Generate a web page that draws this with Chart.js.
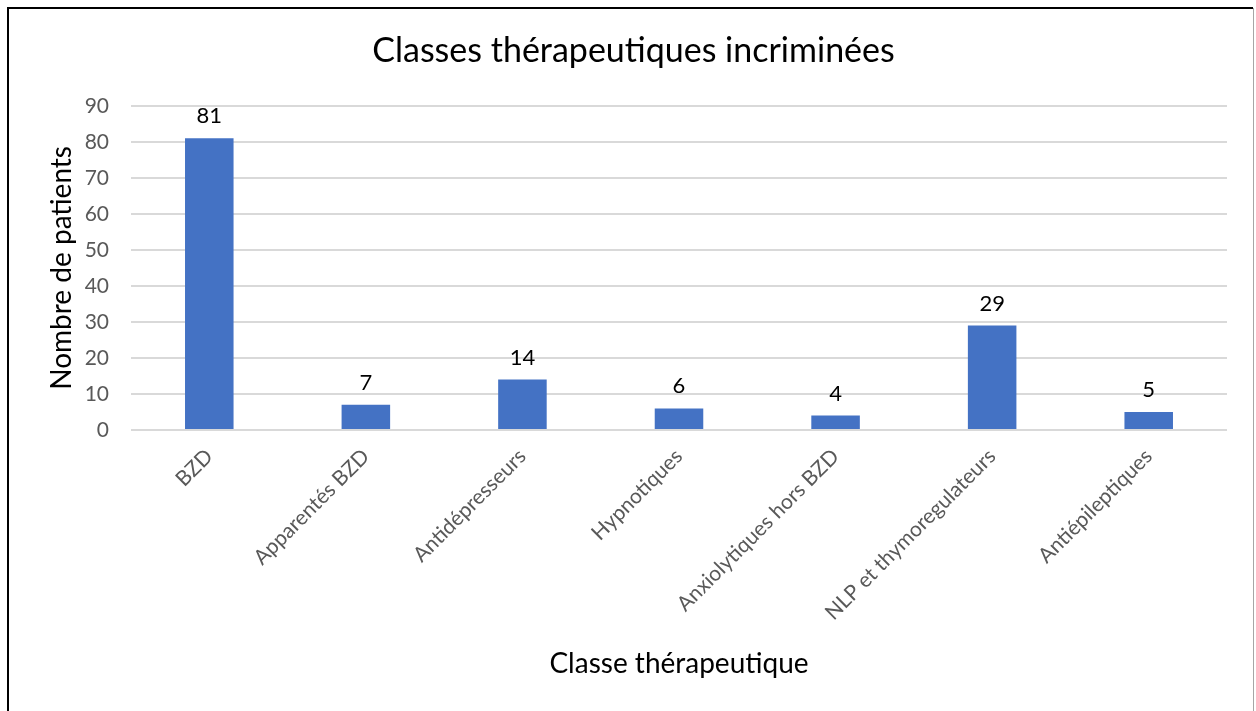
<!DOCTYPE html>
<html>
<head>
<meta charset="utf-8">
<script src="https://cdn.jsdelivr.net/npm/chart.js@4"></script>
<style>
  html, body { margin: 0; padding: 0; background: #fff; }
  #wrap { position: absolute; left: 0; top: 0; width: 1256px; height: 711px; }
</style>
</head>
<body>
<div id="wrap"><canvas id="graphique" width="1256" height="711"></canvas></div>
<script>
// données
const classes = ['BZD', 'Apparentés BZD', 'Antidépresseurs', 'Hypnotiques',
                 'Anxiolytiques hors BZD', 'NLP et thymoregulateurs', 'Antiépileptiques'];
const nbPatients = [81, 7, 14, 6, 4, 29, 5];
const graduations = [0, 10, 20, 30, 40, 50, 60, 70, 80, 90];

const police = 'Lato';

// étiquettes de valeur au-dessus des barres
const etiquettes = {
    id: 'etiquettes',
    afterDatasetsDraw(chart) {
        const ctx = chart.ctx;
        const meta = chart.getDatasetMeta(0);
        ctx.save();
        ctx.font = '22px ' + police;
        ctx.fillStyle = '#000';
        ctx.textAlign = 'center';
        ctx.textBaseline = 'middle';
        meta.data.forEach((barre, i) => {
            ctx.fillText(String(nbPatients[i]), barre.x, barre.y - 22);
        });
        ctx.restore();
    }
};

// cadre autour du graphique
const cadre = {
    id: 'cadre',
    afterDraw(chart) {
        const ctx = chart.ctx;
        ctx.save();
        ctx.strokeStyle = '#000';
        ctx.lineWidth = 2;
        ctx.beginPath();
        ctx.moveTo(8, 720);
        ctx.lineTo(8, 8);
        ctx.lineTo(1253, 8);
        ctx.stroke();
        ctx.strokeStyle = '#a6a6a6';
        ctx.lineWidth = 1;
        ctx.beginPath();
        ctx.moveTo(1253.5, 8);
        ctx.lineTo(1253.5, 720);
        ctx.stroke();
        ctx.restore();
    }
};

function dessiner() {
    const ctx = document.getElementById('graphique').getContext('2d');

    new Chart(ctx, {
        type: 'bar',
        data: {
            labels: classes,
            datasets: [{
                label: 'Nombre de patients',
                data: nbPatients,
                backgroundColor: '#4472C4',
                categoryPercentage: 1,
                barPercentage: 0.31
            }]
        },
        options: {
            responsive: false,
            animation: false,
            layout: { padding: { top: 14, left: 40, right: 29, bottom: 0 } },
            plugins: {
                legend: { display: false },
                tooltip: { enabled: false },
                title: {
                    display: true,
                    text: 'Classes thérapeutiques incriminées',
                    color: '#000',
                    font: { family: police, size: 34, weight: 'normal' },
                    padding: { top: 17, bottom: 34 }
                }
            },
            scales: {
                x: {
                    grid: { display: false },
                    border: { display: false },
                    ticks: {
                        color: '#595959',
                        font: { family: police, size: 21 },
                        minRotation: 45,
                        maxRotation: 45,
                        padding: 6
                    },
                    title: {
                        display: true,
                        text: 'Classe thérapeutique',
                        color: '#000',
                        font: { family: police, size: 28 },
                        padding: { top: 0, bottom: 30 }
                    },
                    afterFit(scale) { scale.height = 281; }
                },
                y: {
                    min: 0,
                    max: 90,
                    afterBuildTicks(scale) {
                        scale.ticks = graduations.map(v => ({ value: v }));
                    },
                    grid: { color: '#D9D9D9', lineWidth: 2, drawTicks: false },
                    border: { display: false },
                    ticks: {
                        color: '#595959',
                        font: { family: police, size: 21 },
                        padding: 22
                    },
                    title: {
                        display: true,
                        text: 'Nombre de patients',
                        color: '#000',
                        font: { family: police, size: 28 },
                        padding: { top: 5, bottom: 0 }
                    },
                    afterFit(scale) { scale.width = 91; }
                }
            }
        },
        plugins: [etiquettes, cadre]
    });
}

window.onload = dessiner;
</script>
</body>
</html>
